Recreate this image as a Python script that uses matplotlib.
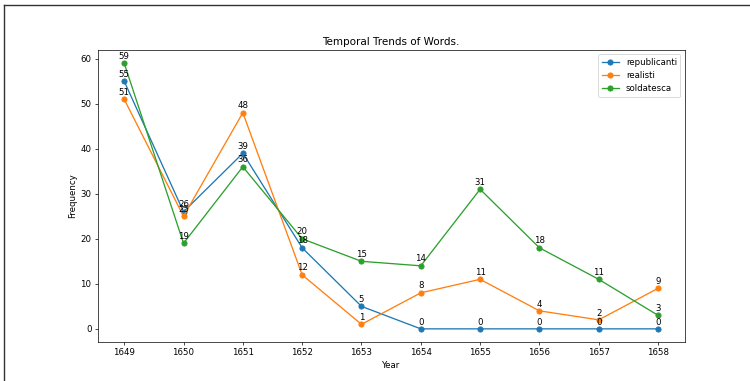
import matplotlib
matplotlib.use("Agg")
import matplotlib.pyplot as plt
from matplotlib.lines import Line2D

years = [1649, 1650, 1651, 1652, 1653, 1654, 1655, 1656, 1657, 1658]
republicanti = [55, 26, 39, 18, 5, 0, 0, 0, 0, 0]
realisti = [51, 25, 48, 12, 1, 8, 11, 4, 2, 9]
soldatesca = [59, 19, 36, 20, 15, 14, 31, 18, 11, 3]

series = {'republicanti': republicanti, 'realisti': realisti, 'soldatesca': soldatesca}

fig = plt.figure(figsize=(12, 6.096), dpi=62.5)
ax = fig.add_axes([0.13, 0.102, 0.783, 0.767])

for name, vals in series.items():
    ax.plot(years, vals, marker='o', label=name)
    for x, y in zip(years, vals):
        ax.annotate(str(y), (x, y), textcoords='offset points', xytext=(0, 5), ha='center')

ax.set_xticks(years)
ax.set_title('Temporal Trends of Words.')
ax.set_xlabel('Year')
ax.set_ylabel('Frequency')
ax.legend(loc='upper right')

# frame around the screenshot
fig.add_artist(Line2D([4/750, 1.0], [1 - 5/381, 1 - 5/381], color='#333333', lw=1.6))
fig.add_artist(Line2D([4/750, 4/750], [0, 1 - 5/381], color='#333333', lw=1.6))

fig.savefig('out.png', dpi=62.5)
